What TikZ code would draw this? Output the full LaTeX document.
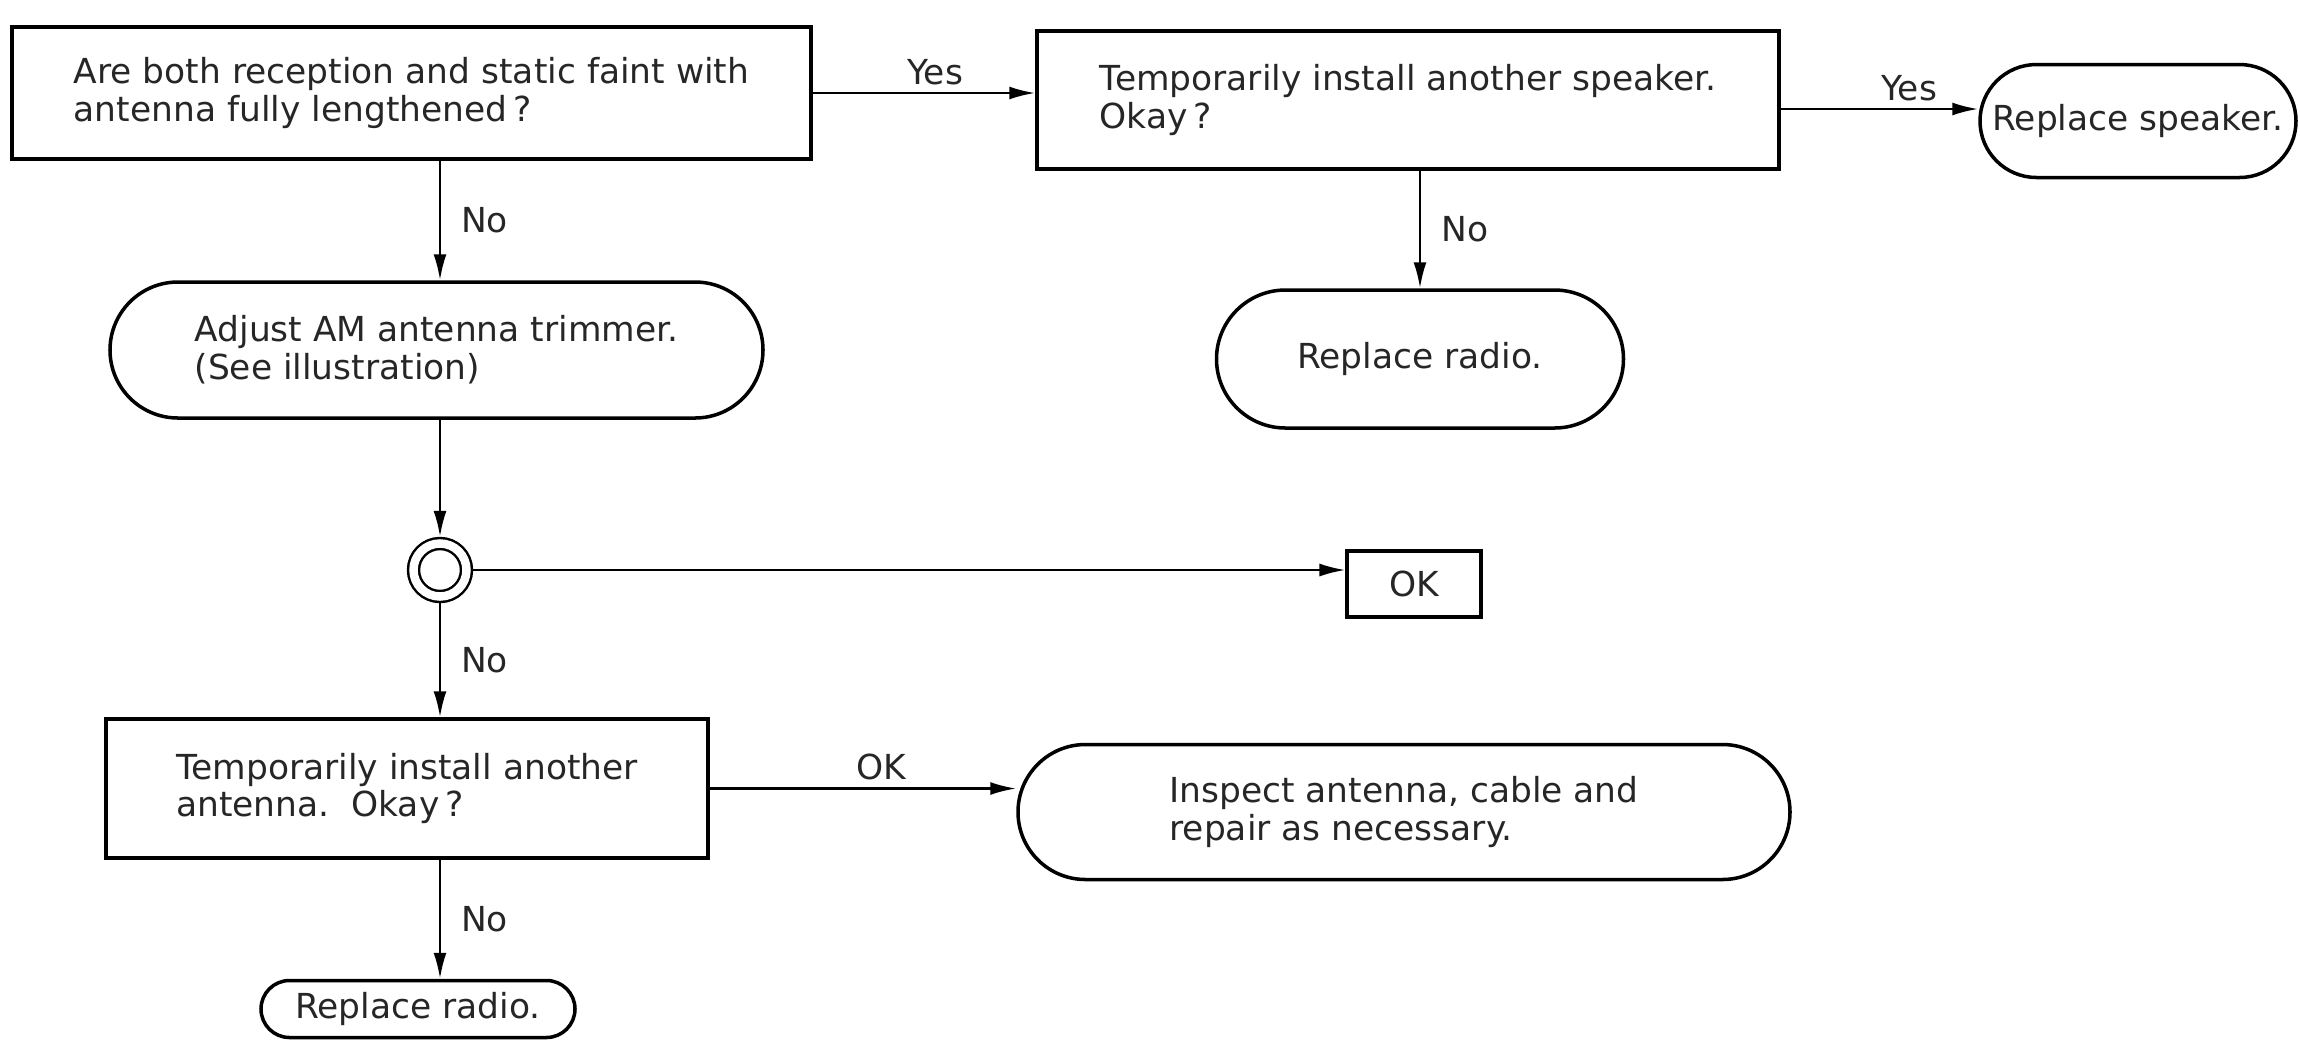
\documentclass[tikz,border=0pt]{standalone}
\usepackage{fontspec}
\setmainfont{DejaVu Sans}
\usetikzlibrary{arrows.meta}

\begin{document}
\begin{tikzpicture}[
  every node/.style={font=\fontsize{9.8}{10.8}\selectfont, text=black!85},
  query/.style={draw, line width=1pt, align=left, inner sep=0pt},
  term/.style={draw, line width=1pt, align=left, inner sep=0pt, rounded corners=#1},
  flow/.style={line width=0.7pt, -{Latex[length=2.6mm, width=1.3mm]}},
  tag/.style={inner sep=2mm},
  toptag/.style={above, inner sep=0.7mm},
]
  \useasboundingbox (0,0) rectangle (23,-10.41);

  \node[query, minimum width=7.99cm, minimum height=1.32cm] (reception) at (4.115,-0.93)
    {Are both reception and static faint with\\antenna fully lengthened\,?};
  \node[query, minimum width=7.42cm, minimum height=1.38cm] (speakertest) at (14.08,-1.0)
    {Temporarily install another speaker.\\Okay\,?};
  \node[term=0.565cm, minimum width=3.16cm, minimum height=1.13cm] (speaker) at (21.38,-1.21)
    {Replace speaker.};
  \node[term=0.69cm, minimum width=4.07cm, minimum height=1.38cm] (radioA) at (14.2,-3.59)
    {Replace radio.};
  \node[term=0.68cm, minimum width=6.53cm, minimum height=1.36cm] (trimmer) at (4.365,-3.5)
    {Adjust AM antenna trimmer.\\(See illustration)};
  \node[draw, circle, double, double distance=0.85mm, line width=0.7pt,
        minimum size=5.3mm, inner sep=0pt, outer sep=0.67mm] (junction) at (4.40,-5.70) {};
  \node[query, line width=0.9pt, minimum width=1.34cm, minimum height=0.66cm] (okbox) at (14.14,-5.84)
    {OK};
  \node[query, minimum width=6.02cm, minimum height=1.39cm] (antennatest) at (4.07,-7.885)
    {Temporarily install another\\antenna.~~Okay\,?};
  \node[term=0.675cm, minimum width=7.72cm, minimum height=1.35cm] (inspect) at (14.04,-8.12)
    {Inspect antenna, cable and\\repair as necessary.};
  \node[term=0.285cm, minimum width=3.14cm, minimum height=0.57cm] (radioB) at (4.18,-10.09)
    {Replace radio.};

  \draw[flow] (reception.east) -- node[toptag, pos=0.55] {Yes} (reception.east -| speakertest.west);
  \draw[flow] ([yshift=-0.09cm]speakertest.east) -- node[toptag, pos=0.65] {Yes}
    ([yshift=-0.09cm]speakertest.east -| speaker.west);
  \draw[flow] (speakertest.south -| radioA) -- node[right, tag] {No} (radioA.north);
  \draw[flow] (reception.south -| junction) -- node[right, tag] {No} (trimmer.north -| junction);
  \draw[flow] (trimmer.south -| junction) -- (junction.north);
  \draw[flow] (junction.east) -- (junction.east -| okbox.west);
  \draw[flow] (junction.south) -- node[right, tag] {No} (antennatest.north -| junction);
  \draw[flow] (antennatest.east) -- node[toptag, pos=0.56] {OK} (antennatest.east -| inspect.west);
  \draw[flow] (antennatest.south -| junction) -- node[right, tag] {No} (radioB.north -| junction);
\end{tikzpicture}
\end{document}
